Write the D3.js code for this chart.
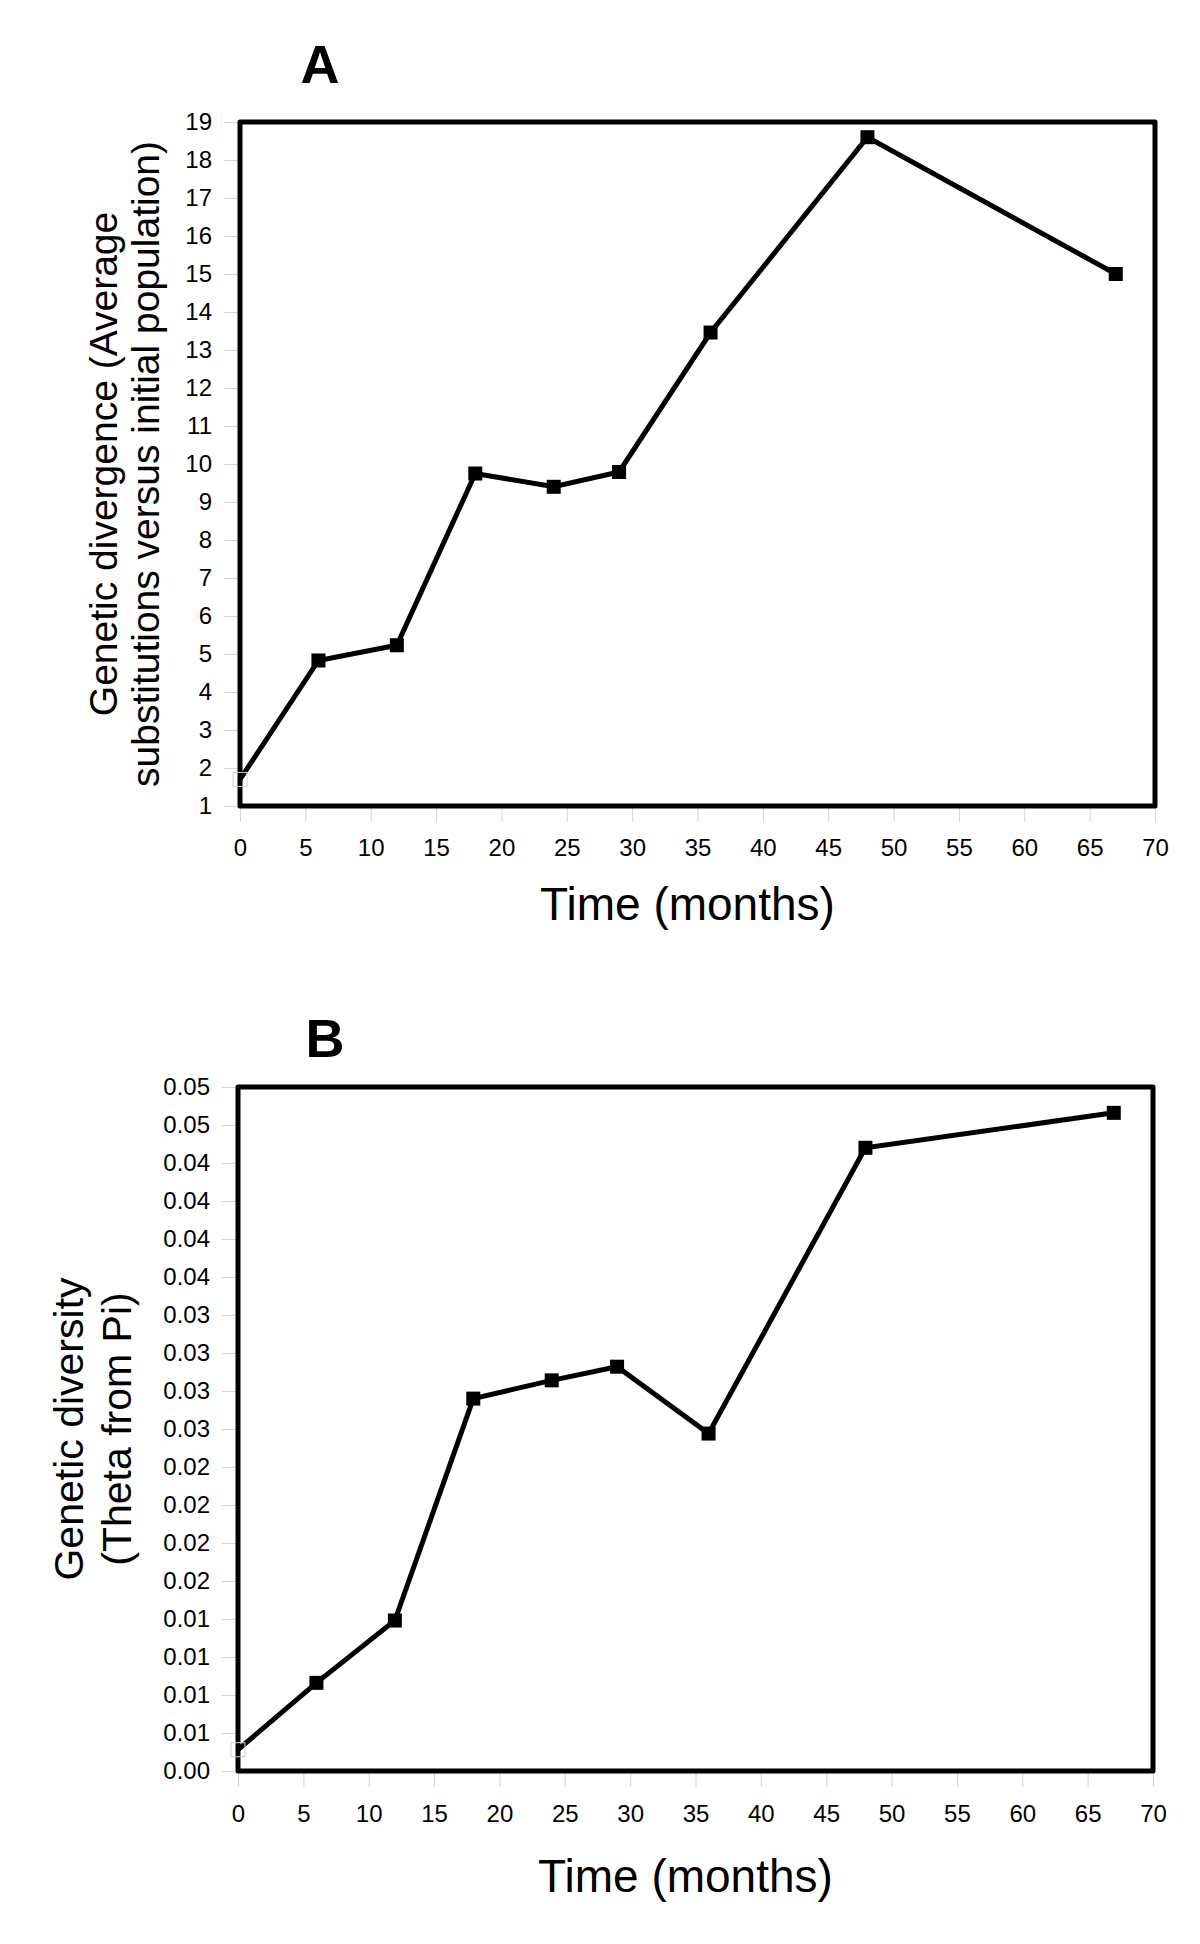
<!DOCTYPE html>
<html>
<head>
<meta charset="utf-8">
<script src="https://cdn.jsdelivr.net/npm/d3@7"></script>
<style>
  html, body { margin: 0; padding: 0; background: #fff; }
  svg { display: block; font-family: "Liberation Sans", Arial, sans-serif; }
</style>
</head>
<body>
<svg id="chart" width="1200" height="1944"></svg>
<script>
// ---------- Data ----------
const months = [0, 6, 12, 18, 24, 29, 36, 48, 67];
const divergence = [1.7, 4.83, 5.23, 9.75, 9.4, 9.79, 13.46, 18.6, 15.0];
const diversity = [0.0014, 0.0058, 0.0099, 0.0245, 0.0257, 0.0266, 0.0222, 0.0410, 0.0433];

const xTicks = [0, 5, 10, 15, 20, 25, 30, 35, 40, 45, 50, 55, 60, 65, 70];
const yTicksA = [1, 2, 3, 4, 5, 6, 7, 8, 9, 10, 11, 12, 13, 14, 15, 16, 17, 18, 19];
const yTickValuesB = [0, 0.0025, 0.005, 0.0075, 0.01, 0.0125, 0.015, 0.0175, 0.02, 0.0225,
  0.025, 0.0275, 0.03, 0.0325, 0.035, 0.0375, 0.04, 0.0425, 0.045];
const yTickLabelsB = ["0.00", "0.01", "0.01", "0.01", "0.01", "0.02", "0.02", "0.02", "0.02",
  "0.03", "0.03", "0.03", "0.03", "0.04", "0.04", "0.04", "0.04", "0.05", "0.05"];

const svg = d3.select("#chart");

function panel(cfg) {
  const x = d3.scaleLinear().domain([0, 70]).range([cfg.left, cfg.right]);
  const y = d3.scaleLinear().domain(cfg.yDomain).range([cfg.bottom, cfg.top]);
  const g = svg.append("g");

  // y axis
  const ya = g.append("g").attr("transform", `translate(${cfg.left},0)`)
    .call(d3.axisLeft(y).tickValues(cfg.yTickValues).tickFormat((d, i) => cfg.yTickLabels[i])
      .tickSize(16).tickPadding(12));
  ya.select(".domain").remove();
  ya.selectAll("line").attr("stroke", "#d4d4d4").attr("stroke-width", 1);
  ya.selectAll("text").attr("font-size", 24).attr("fill", "#000")
    .attr("font-family", "'Liberation Sans', Arial, sans-serif");

  // x axis
  const xa = g.append("g").attr("transform", `translate(0,${cfg.bottom})`)
    .call(d3.axisBottom(x).tickValues(xTicks).tickFormat(d3.format("d"))
      .tickSize(16).tickPadding(cfg.xPad));
  xa.select(".domain").remove();
  xa.selectAll("line").attr("stroke", "#d4d4d4").attr("stroke-width", 1);
  xa.selectAll("text").attr("font-size", 24).attr("fill", "#000")
    .attr("font-family", "'Liberation Sans', Arial, sans-serif");

  // frame
  g.append("rect")
    .attr("x", cfg.left).attr("y", cfg.top)
    .attr("width", cfg.right - cfg.left).attr("height", cfg.bottom - cfg.top)
    .attr("fill", "none").attr("stroke", "#000").attr("stroke-width", 5)
    .attr("stroke-linejoin", "round");

  // line
  const pts = months.map((m, i) => [m, cfg.values[i]]);
  g.append("path").datum(pts)
    .attr("d", d3.line().x(d => x(d[0])).y(d => y(d[1])))
    .attr("fill", "none").attr("stroke", "#000").attr("stroke-width", 5)
    .attr("stroke-linejoin", "miter");

  // first marker: hollow grey square
  const ms = 14;
  g.append("rect")
    .attr("x", x(pts[0][0]) - ms / 2).attr("y", y(pts[0][1]) - ms / 2)
    .attr("width", ms).attr("height", ms)
    .attr("fill", "none").attr("stroke", "#cfcfcf").attr("stroke-width", 1);

  // other markers
  g.selectAll("rect.mk").data(pts.slice(1)).enter().append("rect")
    .attr("class", "mk")
    .attr("x", d => x(d[0]) - ms / 2).attr("y", d => y(d[1]) - ms / 2)
    .attr("width", ms).attr("height", ms).attr("fill", "#000");

  // panel letter
  g.append("text").attr("x", cfg.letterX).attr("y", cfg.letterY)
    .attr("text-anchor", "middle").attr("font-size", 54).attr("font-weight", "bold")
    .text(cfg.letter);

  // x title
  g.append("text").attr("x", (cfg.left + cfg.right) / 2 - 10).attr("y", cfg.xTitleY)
    .attr("text-anchor", "middle").attr("font-size", 46).text("Time (months)");

  // y title
  const cy = (cfg.top + cfg.bottom) / 2;
  cfg.yTitle.forEach((t, i) => {
    g.append("text")
      .attr("transform", `translate(${cfg.yTitleX[i]},${cy}) rotate(-90)`)
      .attr("text-anchor", "middle").attr("font-size", cfg.yTitleSize).text(t);
  });
}

panel({
  left: 240, right: 1155, top: 122, bottom: 806,
  yDomain: [1, 19], yTickValues: yTicksA, yTickLabels: yTicksA.map(String),
  values: divergence, xPad: 17,
  letter: "A", letterX: 320, letterY: 83,
  xTitleY: 920,
  yTitle: ["Genetic divergence (Average", "substitutions versus initial population)"],
  yTitleX: [117, 159], yTitleSize: 39
});

panel({
  left: 238, right: 1153, top: 1087, bottom: 1771,
  yDomain: [0, 0.045], yTickValues: yTickValuesB, yTickLabels: yTickLabelsB,
  values: diversity, xPad: 18,
  letter: "B", letterX: 325, letterY: 1057,
  xTitleY: 1892,
  yTitle: ["Genetic diversity", "(Theta from Pi)"],
  yTitleX: [83, 131], yTitleSize: 41
});
</script>
</body>
</html>
